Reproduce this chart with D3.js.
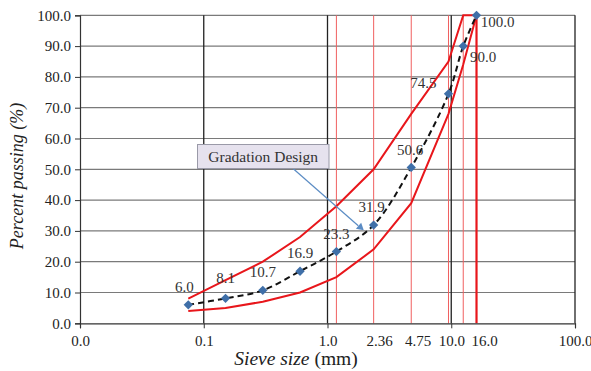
<!DOCTYPE html>
<html><head><meta charset="utf-8">
<script src="https://cdn.jsdelivr.net/npm/d3@7/dist/d3.min.js"></script>
<style>
body{margin:0;background:#fff;}
svg{display:block;font-family:"Liberation Serif","Times New Roman",serif;}
</style></head>
<body><svg id="c" width="591" height="371"></svg>
<script>
const sieveSizes = [0.075, 0.15, 0.3, 0.6, 1.18, 2.36, 4.75, 9.5, 12.5, 16];
const designPassing = [6.0, 8.1, 10.7, 16.9, 23.3, 31.9, 50.6, 74.5, 90.0, 100.0];
const upperLimit = [8, 14, 20, 28, 38, 50, 68, 85, 100, 100];
const lowerLimit = [4, 5, 7, 10, 15, 24, 39, 68, 84, 100];
const xTickValues = [0.01, 0.1, 1, 10, 100];
const xTickLabels = ["0.0", "0.1", "1.0", "10.0", "100.0"];
const sieveMarks = [1.18, 2.36, 4.75, 9.5, 12.5];
const extraLabelValues = [2.36, 4.75, 16];
const extraLabels = ["2.36", "4.75", "16.0"];
const yTicks = [0, 10, 20, 30, 40, 50, 60, 70, 80, 90, 100];
const annotation = {text: "Gradation Design", x: 1.91, y: 30.7};

const svg = d3.select("#c");
const L = 80, R = 575, T = 15.3, B = 323.3;
const x = d3.scaleLog().domain([0.01, 100]).range([L, R]);
const y = d3.scaleLinear().domain([0, 100]).range([B, T]);

// horizontal gridlines
svg.append("g").selectAll("line").data(yTicks.filter(d => d > 0)).join("line")
  .attr("x1", L).attr("x2", R).attr("y1", d => y(d)).attr("y2", d => y(d))
  .attr("stroke", "#7a7a7a").attr("stroke-width", 1.2);

// sieve red lines
svg.append("g").selectAll("line").data(sieveMarks).join("line")
  .attr("x1", d => x(d)).attr("x2", d => x(d)).attr("y1", T).attr("y2", B)
  .attr("stroke", "#f06060").attr("stroke-width", 1);

// decade vertical lines
svg.append("g").selectAll("line").data(xTickValues.slice(1)).join("line")
  .attr("x1", d => x(d)).attr("x2", d => x(d)).attr("y1", T).attr("y2", B)
  .attr("stroke", "#222").attr("stroke-width", 1.3);

// thick red at 16
svg.append("line").attr("x1", x(16)).attr("x2", x(16)).attr("y1", y(100)).attr("y2", y(0))
  .attr("stroke", "#e8161b").attr("stroke-width", 2.2);

// axes
const yAxis = d3.axisLeft(y).tickValues(yTicks).tickFormat(d3.format(".1f")).tickSize(5).tickPadding(4);
const gy = svg.append("g").attr("transform", `translate(${L},0)`).call(yAxis);
gy.select(".domain").attr("stroke", "#333").attr("stroke-width", 1.2);
gy.selectAll(".tick line").attr("stroke", "#333");
gy.selectAll("text").attr("font-size", 15).attr("fill", "#222").attr("font-family", "Liberation Serif");

const xAxis = d3.axisBottom(x).tickValues(xTickValues).tickFormat((d, i) => xTickLabels[i]).tickSize(5).tickPadding(7);
const gx = svg.append("g").attr("transform", `translate(0,${B})`).call(xAxis);
gx.select(".domain").attr("stroke", "#333").attr("stroke-width", 1.2);
gx.selectAll(".tick line").attr("stroke", "#333");
gx.selectAll("text").attr("font-size", 15).attr("fill", "#222").attr("font-family", "Liberation Serif");

const extraDx = [6, 7, 8];
svg.append("g").selectAll("text").data(extraLabelValues).join("text")
  .attr("x", (d, i) => x(d) + extraDx[i]).attr("y", 346)
  .attr("text-anchor", "middle").attr("font-size", 15).attr("fill", "#222")
  .text((d, i) => extraLabels[i]);

// limit lines
const lineGen = d3.line().x(d => x(d[0])).y(d => y(d[1]));
svg.append("path").datum(sieveSizes.map((s, i) => [s, upperLimit[i]]))
  .attr("d", lineGen).attr("fill", "none").attr("stroke", "#e8161b").attr("stroke-width", 2);
svg.append("path").datum(sieveSizes.map((s, i) => [s, lowerLimit[i]]))
  .attr("d", lineGen).attr("fill", "none").attr("stroke", "#e8161b").attr("stroke-width", 2);

// design curve
const smooth = d3.line().x(d => x(d[0])).y(d => y(d[1])).curve(d3.curveCatmullRom.alpha(0.5));
const design = sieveSizes.map((s, i) => [s, designPassing[i]]);
svg.append("path").datum(design).attr("d", smooth).attr("fill", "none")
  .attr("stroke", "#111").attr("stroke-width", 2).attr("stroke-dasharray", "6,4");

svg.append("g").selectAll("path").data(design).join("path")
  .attr("d", d3.symbol().type(d3.symbolDiamond2).size(55))
  .attr("transform", d => `translate(${x(d[0])},${y(d[1])})`)
  .attr("fill", "#3f6fa8");

// data labels
const lblOff = [[-4,-13],[0,-15],[0,-13],[0,-13],[0,-13],[-2,-13],[-1,-12],[-25,-6],[20,16],[21,12]];
svg.append("g").selectAll("text").data(design).join("text")
  .attr("x", (d, i) => x(d[0]) + lblOff[i][0]).attr("y", (d, i) => y(d[1]) + lblOff[i][1])
  .attr("text-anchor", "middle").attr("font-size", 15).attr("fill", "#333")
  .text(d => d[1].toFixed(1));

// annotation
const bx = 197.5, by = 144.5, bw = 131.5, bh = 24;
svg.append("line").attr("x1", 293).attr("y1", by + bh).attr("x2", x(annotation.x) - 4).attr("y2", y(annotation.y) - 3)
  .attr("stroke", "#5b8cc4").attr("stroke-width", 1.2);
svg.append("path").attr("d", d3.symbol().type(d3.symbolTriangle).size(28))
  .attr("transform", `translate(${x(annotation.x) - 2},${y(annotation.y) - 1.5}) rotate(131)`)
  .attr("fill", "#5b8cc4");
svg.append("rect").attr("x", bx).attr("y", by).attr("width", bw).attr("height", bh)
  .attr("fill", "#e6e2ee").attr("stroke", "#9a9aa8").attr("stroke-width", 1);
svg.append("text").attr("x", bx + bw / 2).attr("y", by + 17.5).attr("text-anchor", "middle")
  .attr("font-size", 15.5).attr("fill", "#333").text(annotation.text);

// axis titles
svg.append("text").attr("transform", "translate(23,176) rotate(-90)").attr("text-anchor", "middle")
  .attr("font-size", 18).attr("font-style", "italic").attr("fill", "#222").text("Percent passing (%)");
const xt = svg.append("text").attr("x", 296).attr("y", 365).attr("text-anchor", "middle")
  .attr("font-size", 19.5).attr("fill", "#222");
xt.append("tspan").attr("font-style", "italic").text("Sieve size");
xt.append("tspan").text(" (mm)");
</script></body></html>
